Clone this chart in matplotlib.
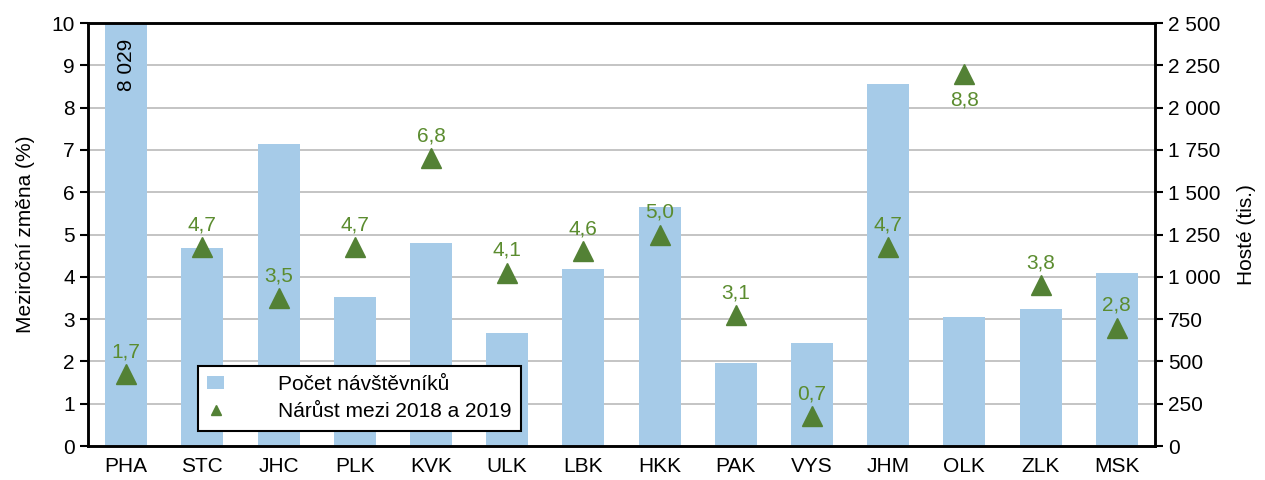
import matplotlib
matplotlib.use("Agg")
import matplotlib.pyplot as plt
from matplotlib.ticker import FuncFormatter, MultipleLocator

plt.rcParams['font.family'] = ['Liberation Sans', 'DejaVu Sans']

regions = ["PHA", "STC", "JHC", "PLK", "KVK", "ULK", "LBK", "HKK", "PAK", "VYS", "JHM", "OLK", "ZLK", "MSK"]
guests = [8029, 1170, 1785, 881, 1200, 668, 1046, 1413, 490, 609, 2139, 762, 810, 1022]
growth = [1.7, 4.7, 3.5, 4.7, 6.8, 4.1, 4.6, 5.0, 3.1, 0.7, 4.7, 8.8, 3.8, 2.8]

bar_color = "#A6CBE8"
green = "#538135"
label_green = "#5B8C2F"
FS = 15

fig = plt.figure(figsize=(12.65, 4.8), dpi=100)
ax = fig.add_axes([0.0696, 0.0708, 0.8434, 0.8812])
ax2 = ax.twinx()

x = list(range(len(regions)))
ax2.bar(x, guests, width=0.55, color=bar_color, zorder=2, label="Počet návštěvníků")
ax2.set_ylim(0, 2500)
ax2.yaxis.set_major_locator(MultipleLocator(250))
ax2.yaxis.set_major_formatter(FuncFormatter(lambda v, p: f"{int(v):,}".replace(",", " ")))
ax2.grid(axis='y', color="#BFBFBF", linewidth=1.3, zorder=0)
ax2.set_axisbelow(True)
ax2.set_ylabel("Hosté (tis.)", fontsize=FS, labelpad=12)

# clipped label for PHA
ax2.text(0, 2500 - 90, f"{guests[0]:,}".replace(",", " "), rotation=90, ha='center', va='top',
         fontsize=FS, color='black', zorder=5)

ax.set_zorder(ax2.get_zorder() + 1)
ax.patch.set_visible(False)
ax.plot(x, growth, linestyle='none', marker='^', markersize=15, color=green,
        label="Nárůst mezi 2018 a 2019", zorder=4)
for xi, g in zip(x, growth):
    s = f"{g:.1f}".replace(".", ",")
    if g > 8:
        ax.text(xi, g - 0.4, s, ha='center', va='top', fontsize=FS, color=label_green)
    else:
        ax.text(xi, g + 0.3, s, ha='center', va='bottom', fontsize=FS, color=label_green)

ax.set_ylim(0, 10)
ax.set_xlim(-0.5, len(regions) - 0.5)
ax.yaxis.set_major_locator(MultipleLocator(1))
ax.set_xticks(x)
ax.set_xticklabels(regions)
ax.set_ylabel("Meziroční změna (%)", fontsize=FS, labelpad=12)

for a in (ax, ax2):
    a.tick_params(axis='both', labelsize=FS, color='black', width=1.5, length=6)
    for sp in a.spines.values():
        sp.set_color('black')
        sp.set_linewidth(1.8)
ax.tick_params(axis='x', length=0, pad=8)
ax2.tick_params(axis='x', length=0)

h1, l1 = ax2.get_legend_handles_labels()
h2, l2 = ax.get_legend_handles_labels()
leg = ax.legend(h1 + h2, l1 + l2, loc='lower left', bbox_to_anchor=(0.103, 0.036),
                fontsize=FS, frameon=True, fancybox=False, edgecolor='black', framealpha=1,
                markerscale=0.45, handlelength=0.8, handleheight=0.6, handletextpad=2.6,
                borderpad=0.45, borderaxespad=0, labelspacing=0.4)
leg.get_frame().set_linewidth(1.5)

fig.savefig("out.png", dpi=100)
